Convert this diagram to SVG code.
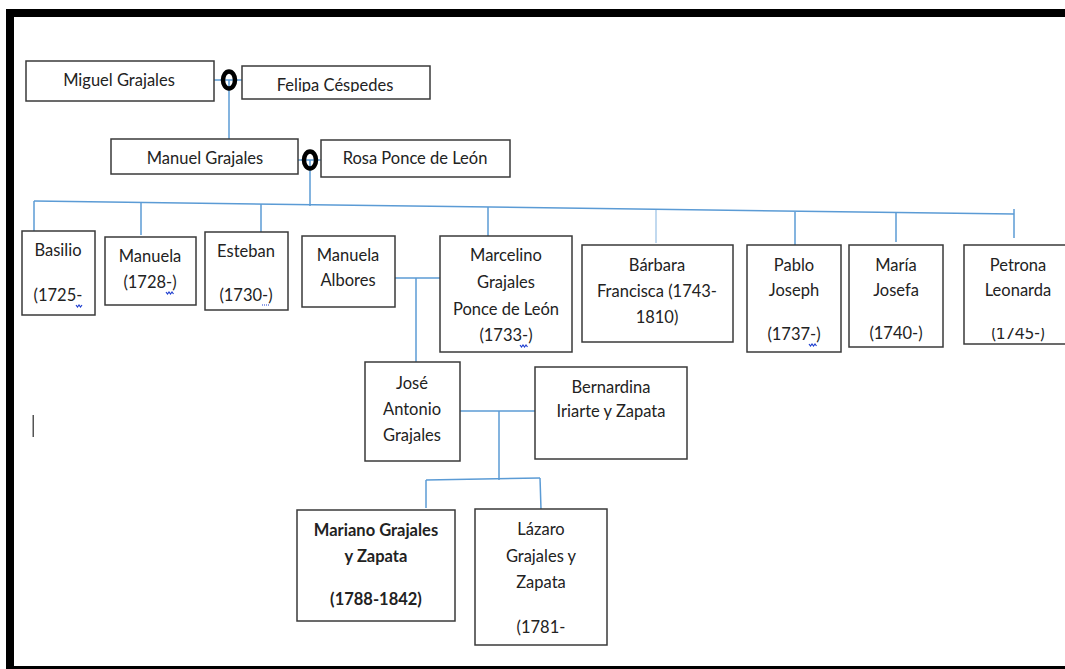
<svg xmlns="http://www.w3.org/2000/svg" width="1065" height="669" viewBox="0 0 1065 669">
<style>
.box{fill:#fff;stroke:#3a3a3a;stroke-width:1.5}
.t{font-family:Lato,"Open Sans","Liberation Sans",sans-serif;font-size:16.5px;fill:#222;text-anchor:middle}
.b{font-weight:bold}
.c{fill:none;stroke:#5b9bd5;stroke-width:1.5}
.ring{fill:none;stroke:#000;stroke-width:4.5}
.sq{fill:none;stroke:#2040d0;stroke-width:1.2}
</style>
<rect x="0" y="0" width="1065" height="669" fill="#fff"/>
<g id="frame">
<rect x="6" y="9" width="1059" height="8" fill="#000"/>
<rect x="6" y="9" width="8" height="660" fill="#000"/>
<rect x="6" y="666" width="1059" height="3" fill="#000"/>
<rect x="32.5" y="415" width="1.5" height="22" fill="#555"/>
</g>
<g id="connectors">
<line class="c" x1="214" y1="80" x2="242" y2="80"/>
<line class="c" x1="229" y1="80" x2="229" y2="139"/>
<line class="c" x1="298" y1="160" x2="321" y2="160"/>
<line class="c" x1="310" y1="160" x2="310" y2="206"/>
<line class="c" x1="34" y1="201" x2="1014" y2="214"/>
<line class="c" x1="34" y1="201" x2="34" y2="232"/>
<line class="c" x1="141" y1="203" x2="141" y2="235"/>
<line class="c" x1="261" y1="204" x2="261" y2="233"/>
<line class="c" x1="488" y1="207" x2="488" y2="236"/>
<line class="c" x1="656" y1="210" x2="656" y2="243" stroke-opacity="0.5"/>
<line class="c" x1="795" y1="212" x2="795" y2="245"/>
<line class="c" x1="896" y1="213" x2="896" y2="242"/>
<line class="c" x1="1014" y1="209" x2="1014" y2="238"/>
<line class="c" x1="395" y1="278" x2="440" y2="278"/>
<line class="c" x1="416" y1="278" x2="416" y2="362"/>
<line class="c" x1="460" y1="411" x2="535" y2="411"/>
<line class="c" x1="499" y1="411" x2="499" y2="480"/>
<line class="c" x1="426" y1="480" x2="540" y2="478"/>
<line class="c" x1="426" y1="480" x2="426" y2="508"/>
<line class="c" x1="540" y1="478" x2="541" y2="509"/>
<ellipse class="ring" cx="229" cy="80" rx="6" ry="8.5"/>
<ellipse class="ring" cx="310" cy="160" rx="6" ry="8.5"/>
</g>
<g id="miguel"><rect class="box" x="26" y="61" width="188" height="40"/><text class="t" x="119" y="86">Miguel Grajales</text></g>
<g id="felipa"><rect class="box" x="242" y="66" width="188" height="33"/><svg x="242" y="66" width="188" height="26" overflow="hidden"><text class="t" x="93" y="25">Felipa Céspedes</text></svg></g>
<g id="manuel"><rect class="box" x="111" y="139" width="187" height="35"/><text class="t" x="205" y="164">Manuel Grajales</text></g>
<g id="rosa"><rect class="box" x="321" y="140" width="189" height="37"/><text class="t" x="415" y="164">Rosa Ponce de León</text></g>
<g id="basilio"><rect class="box" x="22" y="231" width="73" height="84"/><text class="t" x="58" y="256">Basilio</text><text class="t" x="58" y="301">(1725-</text><path class="sq" d="M76 305 l1.5 2 1.5 -2 1.5 2 1.5 -2"/></g>
<g id="manuela"><rect class="box" x="105" y="237" width="91" height="68"/><text class="t" x="150" y="262">Manuela</text><text class="t" x="150" y="288">(1728-)</text><path class="sq" d="M166 292 l1.5 2 1.5 -2 1.5 2 1.5 -2 1.5 2"/></g>
<g id="esteban"><rect class="box" x="205" y="232" width="83" height="78"/><text class="t" x="246" y="301">(1730-)</text><text class="t" x="246" y="257">Esteban</text><path class="sq" d="M262 305 h8" stroke-dasharray="1 1"/></g>
<g id="albores"><rect class="box" x="302" y="236" width="93" height="71"/><text class="t" x="348" y="261">Manuela</text><text class="t" x="348" y="286">Albores</text></g>
<g id="marcelino"><rect class="box" x="440" y="236" width="132" height="116"/><text class="t" x="506" y="261">Marcelino</text><text class="t" x="506" y="288">Grajales</text><text class="t" x="506" y="315">Ponce de León</text><text class="t" x="506" y="341">(1733-)</text><path class="sq" d="M520 345 l1.5 2 1.5 -2 1.5 2 1.5 -2 1.5 2"/></g>
<g id="barbara"><rect class="box" x="582" y="245" width="151" height="97"/><text class="t" x="657" y="271">Bárbara</text><text class="t" x="657" y="297">Francisca (1743-</text><text class="t" x="657" y="323">1810)</text></g>
<g id="pablo"><rect class="box" x="747" y="245" width="94" height="107"/><text class="t" x="794" y="271">Pablo</text><text class="t" x="794" y="296">Joseph</text><text class="t" x="794" y="340">(1737-)</text><path class="sq" d="M809 344 l1.5 2 1.5 -2 1.5 2 1.5 -2 1.5 2"/></g>
<g id="maria"><rect class="box" x="849" y="245" width="94" height="102"/><text class="t" x="896" y="271">María</text><text class="t" x="896" y="296">Josefa</text><text class="t" x="896" y="339">(1740-)</text></g>
<g id="petrona"><rect class="box" x="964" y="245" width="110" height="99"/><text class="t" x="1018" y="271">Petrona</text><text class="t" x="1018" y="296">Leonarda</text><svg x="964" y="328" width="110" height="15" overflow="hidden"><text class="t" x="54" y="11">(1745-)</text></svg></g>
<g id="jose"><rect class="box" x="365" y="362" width="95" height="99"/><text class="t" x="412" y="389">José</text><text class="t" x="412" y="415">Antonio</text><text class="t" x="412" y="441">Grajales</text></g>
<g id="bernardina"><rect class="box" x="535" y="367" width="152" height="92"/><text class="t" x="611" y="393">Bernardina</text><text class="t" x="611" y="417">Iriarte y Zapata</text></g>
<g id="mariano"><rect class="box" x="297" y="510" width="158" height="111"/><text class="t b" x="376" y="536">Mariano Grajales</text><text class="t b" x="376" y="562">y Zapata</text><text class="t b" x="376" y="605">(1788-1842)</text></g>
<g id="lazaro"><rect class="box" x="475" y="509" width="132" height="136"/><text class="t" x="541" y="535">Lázaro</text><text class="t" x="541" y="562">Grajales y</text><text class="t" x="541" y="588">Zapata</text><text class="t" x="541" y="633">(1781-</text></g>
</svg>
